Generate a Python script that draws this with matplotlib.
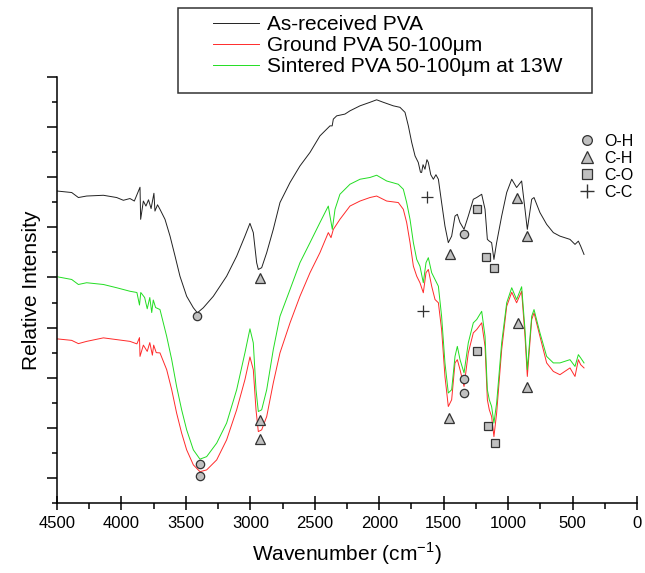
import matplotlib
matplotlib.use("Agg")
from matplotlib import pyplot as plt
from matplotlib.lines import Line2D
from matplotlib.patches import Rectangle
from matplotlib.ticker import MultipleLocator, NullFormatter

plt.rcParams['font.family'] = ['Liberation Sans', 'DejaVu Sans']
plt.rcParams['mathtext.fontset'] = 'custom'
plt.rcParams['mathtext.rm'] = 'Liberation Sans'

# ---- data (wavenumber cm-1, relative intensity) ----
wn_asrec = [4500, 4386, 4334, 4270, 4140, 4037, 3985, 3934, 3900, 3856, 3851, 3830, 3810,
            3790, 3770, 3748, 3740, 3720, 3701, 3662, 3623, 3584, 3546, 3494, 3442, 3411,
            3365, 3287, 3184, 3106, 3042, 3003, 2977, 2951, 2938, 2912, 2873, 2822, 2770,
            2692, 2615, 2537, 2460, 2382, 2365, 2356, 2330, 2266, 2227, 2149, 2072, 2020,
            1968, 1891, 1839, 1800, 1774, 1748, 1722, 1697, 1680, 1671, 1660, 1645, 1630,
            1619, 1600, 1580, 1560, 1541, 1516, 1490, 1464, 1438, 1412, 1394, 1373, 1342,
            1309, 1270, 1244, 1205, 1179, 1161, 1146, 1128, 1110, 1089, 1050, 1011, 972,
            934, 895, 869, 851, 817, 799, 753, 701, 649, 598, 520, 481, 455, 437, 411]
int_asrec = [12.45, 12.39, 12.19, 12.25, 12.28, 12.19, 12.08, 12.15, 12.05, 12.60, 11.32, 12.05, 11.85,
             12.10, 11.75, 12.36, 11.65, 11.90, 11.72, 11.32, 10.65, 9.85, 9.05, 8.25, 7.79, 7.59,
             7.79, 8.25, 9.05, 9.85, 10.65, 11.16, 10.79, 9.59, 9.32, 9.39, 9.99, 10.92, 11.99,
             12.79, 13.45, 13.99, 14.65, 15.05, 15.05, 15.32, 15.45, 15.52, 15.65, 15.85, 15.99, 16.09,
             15.99, 15.85, 15.79, 15.59, 15.05, 14.39, 13.85, 13.59, 13.20, 13.19, 13.50, 13.32, 13.70,
             13.59, 13.10, 12.92, 13.10, 12.92, 11.99, 11.05, 10.39, 10.65, 11.45, 11.52, 11.19, 10.92,
             11.45, 12.12, 12.19, 12.32, 11.72, 10.52, 10.45, 10.39, 9.72, 10.39, 11.45, 12.39, 12.92,
             12.59, 12.85, 11.72, 10.92, 12.12, 12.19, 11.59, 11.12, 10.79, 10.65, 10.52, 10.32, 10.45, 10.25, 9.92]

wn_ground = [4500, 4386, 4334, 4270, 4140, 4037, 3934, 3880, 3860, 3856, 3830, 3800, 3780,
             3760, 3750, 3730, 3701, 3649, 3610, 3572, 3533, 3494, 3442, 3391, 3339, 3261,
             3184, 3106, 3042, 3003, 2977, 2956, 2938, 2912, 2873, 2822, 2770, 2692, 2615,
             2537, 2460, 2395, 2374, 2356, 2305, 2227, 2149, 2072, 2020, 1942, 1852, 1813,
             1787, 1761, 1735, 1709, 1684, 1658, 1637, 1619, 1593, 1567, 1541, 1516, 1490,
             1464, 1438, 1412, 1394, 1373, 1342, 1309, 1270, 1244, 1205, 1179, 1161, 1146,
             1128, 1110, 1089, 1050, 1011, 972, 934, 895, 869, 851, 817, 799, 753, 701, 649,
             598, 520, 481, 455, 437, 411]
int_ground = [6.55, 6.49, 6.36, 6.45, 6.59, 6.52, 6.45, 6.35, 6.60, 5.85, 6.30, 6.05, 6.40,
              5.90, 6.30, 6.00, 5.99, 5.32, 4.52, 3.59, 2.79, 2.12, 1.52, 1.25, 1.32, 1.72,
              2.52, 3.72, 4.92, 5.83, 5.32, 3.72, 2.85, 2.92, 3.45, 4.79, 5.99, 7.19, 8.25,
              9.19, 9.99, 10.79, 10.59, 10.92, 11.32, 11.85, 12.05, 12.19, 12.25, 12.05, 11.99, 11.72,
              11.19, 10.39, 9.45, 9.05, 8.79, 8.39, 9.19, 9.32, 8.65, 8.12, 7.99, 6.92, 5.05,
              3.85, 4.12, 5.59, 5.72, 5.32, 4.65, 5.99, 6.79, 6.92, 7.19, 6.25, 4.12, 3.72,
              3.45, 2.65, 3.59, 6.12, 7.85, 8.41, 7.99, 8.45, 6.65, 5.05, 7.32, 7.59, 6.65, 5.59, 5.25,
              5.12, 5.39, 5.05, 5.72, 5.52, 5.39]

wn_sinter = [4500, 4386, 4334, 4270, 4140, 4037, 3934, 3880, 3860, 3850, 3820, 3800, 3780,
             3765, 3753, 3735, 3701, 3649, 3610, 3572, 3533, 3494, 3442, 3391, 3339, 3261,
             3184, 3106, 3042, 3003, 2977, 2956, 2938, 2912, 2873, 2822, 2770, 2692, 2615,
             2537, 2460, 2395, 2382, 2364, 2343, 2305, 2227, 2149, 2072, 2020, 1942, 1852,
             1813, 1787, 1761, 1735, 1709, 1684, 1658, 1637, 1619, 1593, 1567, 1541, 1516,
             1490, 1464, 1438, 1412, 1394, 1373, 1342, 1309, 1270, 1244, 1205, 1179, 1161,
             1146, 1128, 1110, 1089, 1050, 1011, 972, 934, 895, 869, 851, 817, 799, 753, 701,
             649, 598, 520, 481, 455, 437, 411]
int_sinter = [9.03, 8.92, 8.72, 8.79, 8.72, 8.59, 8.45, 8.40, 7.90, 8.40, 8.20, 7.75, 8.20,
              7.60, 8.10, 7.80, 7.72, 6.65, 5.72, 4.65, 3.72, 2.92, 2.12, 1.75, 1.85, 2.39,
              3.19, 4.52, 5.99, 6.95, 6.39, 4.52, 3.65, 3.72, 4.52, 6.12, 7.45, 8.52, 9.59,
              10.39, 11.19, 11.85, 11.45, 10.92, 11.72, 12.32, 12.72, 12.92, 12.99, 13.08, 12.85, 12.72,
              12.52, 11.99, 11.32, 10.39, 9.72, 9.45, 8.79, 9.59, 9.79, 9.19, 8.92, 8.65, 7.45,
              5.59, 4.39, 4.52, 5.85, 6.25, 5.72, 5.19, 6.39, 7.19, 7.32, 7.65, 6.65, 4.52,
              4.12, 3.85, 3.19, 3.99, 6.39, 7.99, 8.59, 8.12, 8.63, 6.92, 5.32, 7.45, 7.72, 6.79, 5.85,
              5.59, 5.59, 5.72, 5.45, 5.92, 5.79, 5.59]

# band assignments marked on the spectra
oh_wn = [3411, 1340, 3391, 1342, 3391, 1342]
oh_int = [7.45, 10.75, 1.55, 4.95, 1.08, 4.39]
ch_wn = [2925, 1451, 929, 851, 2925, 921, 851, 2925, 1456]
ch_int = [8.99, 9.92, 12.19, 10.65, 3.32, 7.19, 4.61, 2.55, 3.39]
co_wn = [1239, 1174, 1110, 1239, 1159, 1099]
co_int = [11.72, 9.83, 9.39, 6.05, 3.08, 2.39]
cc_wn = [1632, 1663]
cc_int = [12.23, 7.65]

labels = ['As-received PVA', 'Ground PVA 50-100μm', 'Sintered PVA 50-100μm at 13W']
colors = ['#222222', '#ff2a2a', '#22dd22']

fig = plt.figure(figsize=(6.45, 5.73), dpi=100)
ax = fig.add_axes([57 / 645, 70 / 573, 580 / 645, 426 / 573])

l1, = ax.plot(wn_asrec, int_asrec, color=colors[0], lw=0.7)
l2, = ax.plot(wn_ground, int_ground, color=colors[1], lw=0.7)
l3, = ax.plot(wn_sinter, int_sinter, color=colors[2], lw=0.7)

mk = dict(ls='none', mfc='#c0c0c0', mec='#333333', mew=0.9)
ax.plot(oh_wn, oh_int, marker='o', ms=6, **mk)
ax.plot(ch_wn, ch_int, marker='^', ms=7, **mk)
ax.plot(co_wn, co_int, marker='s', ms=5.5, **mk)
ax.plot(cc_wn, cc_int, marker='+', ms=8, ls='none', color='#333333', mew=0.9)

ax.set_xlim(4500, 0)
ax.set_ylim(0, 17)
ax.xaxis.set_major_locator(MultipleLocator(500))
ax.xaxis.set_minor_locator(MultipleLocator(250))
ax.yaxis.set_major_locator(MultipleLocator(2, offset=1))
ax.yaxis.set_minor_locator(MultipleLocator(2))
ax.yaxis.set_major_formatter(NullFormatter())
ax.tick_params(axis='x', which='major', direction='inout', length=10, width=1.1, labelsize=12, pad=4)
ax.tick_params(axis='x', which='minor', direction='out', length=4, width=1.1)
ax.tick_params(axis='y', which='major', direction='out', length=7, width=1.1)
ax.tick_params(axis='y', which='minor', direction='out', length=3.5, width=1.1)
for s in ['top', 'right']:
    ax.spines[s].set_visible(False)
for s in ['left', 'bottom']:
    ax.spines[s].set_linewidth(1.1)

ax.set_xlabel('Wavenumber (cm$^{\\mathrm{-1}}$)', fontsize=15, labelpad=7)
ax.set_ylabel('Relative Intensity', fontsize=15, labelpad=1)

# main legend, frame drawn separately
fig.legend([l1, l2, l3], labels, loc='upper left', bbox_to_anchor=(213 / 645, 1 - 15 / 573),
           frameon=False, borderpad=0, borderaxespad=0, fontsize=15, handlelength=2.2,
           handletextpad=0.4, labelspacing=0.1)
fig.add_artist(Rectangle((178 / 645, 1 - 93 / 573), 414 / 645, 85 / 573, transform=fig.transFigure,
                         fill=False, edgecolor='#333333', lw=1.1))

# band key
keys = [Line2D([], [], marker='o', ms=7, **mk),
        Line2D([], [], marker='^', ms=8, **mk),
        Line2D([], [], marker='s', ms=7, **mk),
        Line2D([], [], marker='+', ms=10, ls='none', color='#333333', mew=1.0)]
fig.legend(keys, ['O-H', 'C-H', 'C-O', 'C-C'], loc='upper left',
           bbox_to_anchor=(579 / 645, 1 - 134 / 573), frameon=False, borderpad=0,
           borderaxespad=0, fontsize=11.5, handlelength=1.0, handletextpad=0.6, labelspacing=0.12)

fig.savefig('out.png', dpi=100)
